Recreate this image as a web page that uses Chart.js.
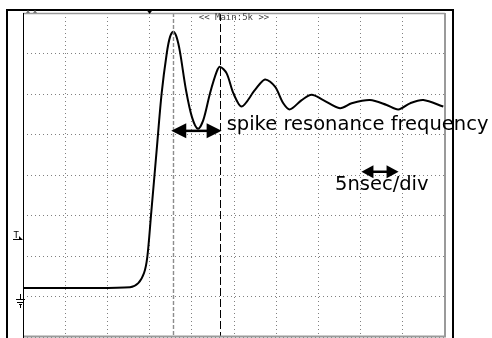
<!DOCTYPE html>
<html>
<head>
<meta charset="utf-8">
<script src="https://cdn.jsdelivr.net/npm/chart.js@4.4.1/dist/chart.umd.min.js"></script>
<style>
  html, body { margin: 0; padding: 0; background: #fff; }
  #wrap { position: relative; width: 492px; height: 338px; }
</style>
</head>
<body>
<div id="wrap"><canvas id="scope"></canvas></div>
<script>
// waveform: time in ns (5 ns/div), level in divisions
var timeNs = [0, 6.75, 12.68, 13.66, 14.34, 14.73, 15.17, 15.84, 16.43, 17.03, 17.42, 17.81,
              18.19, 18.60, 19.31, 20.02, 20.73, 21.37, 22.16, 22.95, 23.34, 24.13, 24.92,
              25.91, 27.49, 28.67, 29.86, 30.84, 31.63, 33.02, 34.20, 35.58, 37.56, 38.94,
              41.11, 43.09, 44.47, 45.85, 47.43, 49.80];
var levelDiv = [1.21, 1.21, 1.23, 1.33, 1.58, 1.98, 3.01, 4.62, 6.02, 7.00, 7.41, 7.54,
                7.41, 7.04, 6.10, 5.43, 5.14, 5.36, 6.02, 6.55, 6.67, 6.51, 6.02,
                5.69, 6.10, 6.36, 6.18, 5.77, 5.62, 5.85, 5.98, 5.85, 5.65, 5.77,
                5.85, 5.73, 5.62, 5.77, 5.85, 5.69];
var cursorsNs = [17.8, 23.3];       // the two vertical cursors
var triggerNs = 15.0;               // trigger position mark on top edge
var triggerLevel = 2.42;            // "T" marker on the left
var groundLevel = 0.91;             // ground marker on the left
var scaleArrowNs = [40.1, 44.5];    // "5nsec/div" arrow
var timeAxis = [0, 50, 5];          // min, max, step
var levelAxis = [0, 8, 1];

var points = timeNs.map(function (t, i) { return {x: t, y: levelDiv[i]}; });

function doubleArrow(ctx, x1, x2, y, len, half, lw) {
	ctx.save();
	ctx.strokeStyle = '#000';
	ctx.fillStyle = '#000';
	ctx.lineWidth = lw;
	ctx.beginPath();
	ctx.moveTo(x1 + len - 1, y);
	ctx.lineTo(x2 - len + 1, y);
	ctx.stroke();
	ctx.beginPath();
	ctx.moveTo(x1, y);
	ctx.lineTo(x1 + len, y - half);
	ctx.lineTo(x1 + len, y + half);
	ctx.closePath();
	ctx.fill();
	ctx.beginPath();
	ctx.moveTo(x2, y);
	ctx.lineTo(x2 - len, y - half);
	ctx.lineTo(x2 - len, y + half);
	ctx.closePath();
	ctx.fill();
	ctx.restore();
}

var scopeDecor = {
	id: 'scopeDecor',
	afterDatasetsDraw: function (chart) {
		var ctx = chart.ctx, a = chart.chartArea;
		var xs = chart.scales.x, ys = chart.scales.y;

		// cursors
		ctx.save();
		ctx.lineWidth = 1.4;
		ctx.strokeStyle = '#8c8c8c';
		ctx.setLineDash([4, 2]);
		var c1 = Math.round(xs.getPixelForValue(cursorsNs[0])) + 0.5;
		ctx.beginPath(); ctx.moveTo(c1, a.top); ctx.lineTo(c1, a.bottom); ctx.stroke();
		ctx.lineWidth = 1;
		ctx.strokeStyle = '#000';
		ctx.setLineDash([8, 3]);
		var c2 = Math.round(xs.getPixelForValue(cursorsNs[1])) + 0.5;
		ctx.beginPath(); ctx.moveTo(c2, a.top); ctx.lineTo(c2, a.bottom); ctx.stroke();
		ctx.restore();

		// plot frame
		ctx.save();
		ctx.strokeStyle = '#9a9a9a';
		ctx.lineWidth = 1.5;
		ctx.beginPath(); ctx.moveTo(a.left, a.top + 0.5); ctx.lineTo(a.right, a.top + 0.5); ctx.stroke();
		ctx.lineWidth = 2;
		ctx.beginPath(); ctx.moveTo(a.right, a.top); ctx.lineTo(a.right, a.bottom); ctx.stroke();
		ctx.beginPath(); ctx.moveTo(a.left, a.bottom - 0.5); ctx.lineTo(a.right + 1, a.bottom - 0.5); ctx.stroke();
		ctx.strokeStyle = '#000';
		ctx.lineWidth = 1;
		ctx.beginPath(); ctx.moveTo(a.left + 0.5, a.top); ctx.lineTo(a.left + 0.5, a.bottom + 2); ctx.stroke();

		// outer black frame
		ctx.lineWidth = 2;
		ctx.beginPath();
		ctx.moveTo(7, chart.height + 2);
		ctx.lineTo(7, 10);
		ctx.lineTo(453, 10);
		ctx.lineTo(453, chart.height + 2);
		ctx.stroke();
		ctx.restore();

		// header text
		ctx.save();
		ctx.fillStyle = '#444';
		ctx.font = '9px "DejaVu Sans Mono"';
		ctx.textAlign = 'center';
		ctx.textBaseline = 'middle';
		ctx.fillText('<< Main:5k >>', (a.left + a.right) / 2, a.top + 5);
		ctx.restore();

		// trigger position mark
		ctx.save();
		ctx.fillStyle = '#000';
		var tp = xs.getPixelForValue(triggerNs);
		ctx.beginPath(); ctx.moveTo(tp - 3, 10); ctx.lineTo(tp + 3, 10); ctx.lineTo(tp, 14); ctx.closePath(); ctx.fill();
		// small marks top-left
		ctx.fillStyle = '#777';
		[28, 35].forEach(function (mx) {
			ctx.beginPath(); ctx.moveTo(mx - 2, 13); ctx.lineTo(mx + 2, 13); ctx.lineTo(mx, 10); ctx.closePath(); ctx.fill();
		});

		// trigger level "T"
		var ty = ys.getPixelForValue(triggerLevel);
		ctx.fillStyle = '#000';
		ctx.font = '9px "DejaVu Sans Mono"';
		ctx.textAlign = 'right';
		ctx.textBaseline = 'bottom';
		ctx.fillText('T', 19, ty + 1);
		ctx.fillRect(13, ty, 8, 1);
		ctx.beginPath(); ctx.moveTo(19, ty - 3); ctx.lineTo(23, ty + 1); ctx.lineTo(19, ty + 1); ctx.closePath(); ctx.fill();

		// ground marker
		var gy = Math.round(ys.getPixelForValue(groundLevel));
		ctx.fillRect(20, gy - 6, 1, 6);
		ctx.fillRect(16, gy - 1, 9, 1);
		ctx.fillRect(17, gy + 2, 7, 1);
		ctx.fillRect(19, gy + 4, 3, 1);
		ctx.fillRect(20, gy + 4, 1, 4);
		ctx.restore();

		// annotation: spike resonance frequency
		var ay = ys.getPixelForValue(5.09);
		doubleArrow(ctx, xs.getPixelForValue(cursorsNs[0]) - 2, xs.getPixelForValue(cursorsNs[1]) + 2, ay, 15, 7.5, 2.5);
		ctx.save();
		ctx.fillStyle = '#000';
		ctx.font = '19.5px "DejaVu Sans"';
		ctx.textAlign = 'left';
		ctx.textBaseline = 'alphabetic';
		ctx.fillText('spike resonance frequency', xs.getPixelForValue(cursorsNs[1]) + 7, ay - 1);
		ctx.restore();

		// annotation: 5nsec/div
		var by = ys.getPixelForValue(4.08);
		var bx1 = xs.getPixelForValue(scaleArrowNs[0]), bx2 = xs.getPixelForValue(scaleArrowNs[1]);
		ctx.save();
		ctx.fillStyle = '#000';
		ctx.font = '19.5px "DejaVu Sans"';
		ctx.textAlign = 'left';
		ctx.textBaseline = 'alphabetic';
		ctx.fillText('5nsec/div', 335, by + 18);
		ctx.restore();
		doubleArrow(ctx, bx1, bx2, by, 12, 6.5, 2.5);
	}
};

var ctx = document.getElementById("scope");
var scope = new Chart(ctx, {
	type: 'line',
	data: {
		datasets: [{
			label: 'CH1',
			data: points,
			borderColor: '#000',
			borderWidth: 2,
			pointRadius: 0,
			fill: false,
			tension: 0.3
		}]
	},
	options: {
		responsive: true,
		maintainAspectRatio: false,
		animation: false,
		layout: {
			padding: {left: 23, top: 13, right: 47, bottom: 1}
		},
		plugins: {
			legend: {display: false},
			tooltip: {enabled: false}
		},
		scales: {
			x: {
				type: 'linear',
				min: timeAxis[0],
				max: timeAxis[1],
				ticks: {display: false, stepSize: timeAxis[2]},
				grid: {color: '#808080', lineWidth: 1, drawTicks: false},
				border: {display: false, dash: [1, 3]}
			},
			y: {
				min: levelAxis[0],
				max: levelAxis[1],
				ticks: {display: false, stepSize: levelAxis[2]},
				grid: {color: '#808080', lineWidth: 1, drawTicks: false},
				border: {display: false, dash: [1, 3]}
			}
		}
	},
	plugins: [scopeDecor]
});
</script>
</body>
</html>
